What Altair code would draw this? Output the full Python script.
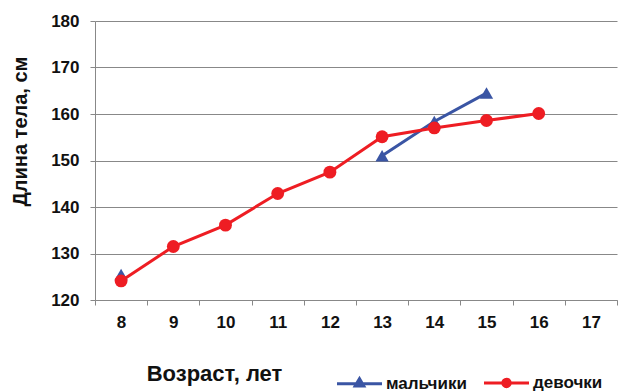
import altair as alt
import pandas as pd

# Age categories on the x axis (years)
ages = [8, 9, 10, 11, 12, 13, 14, 15, 16, 17]

# Body length, cm; None marks ages with no measurement
boys_ages = [8, 9, 10, 11, 12, 13, 14, 15]
boys_len = [125.5, None, None, None, None, 151.0, 158.4, 164.5]

girls_ages = [8, 9, 10, 11, 12, 13, 14, 15, 16]
girls_len = [124.1, 131.5, 136.1, 142.9, 147.5, 155.1, 157.0, 158.6, 160.1]

series = ["мальчики", "девочки"]
colors = ["#3A55A4", "#EE1D23"]
y_ticks = [120, 130, 140, 150, 160, 170, 180]

# Legend glyphs: a short line with the series marker in its middle
legend_paths = [
    "M-4.5,0H4.5M-0.85,0.45L0,-1L0.85,0.45Z",
    "M-4.5,0H4.5M-0.75,0A0.75,0.75 0 1,0 0.75,0A0.75,0.75 0 1,0 -0.75,0Z",
]

boys = pd.DataFrame({"age": boys_ages, "length": boys_len, "series": series[0]})
girls = pd.DataFrame({"age": girls_ages, "length": girls_len, "series": series[1]})
df = pd.concat([boys, girls], ignore_index=True)

FONT = "Liberation Sans"

x_enc = alt.X(
    "age:O",
    scale=alt.Scale(type="band", domain=ages, paddingInner=0, paddingOuter=0),
    bandPosition=0.5,
    axis=alt.Axis(
        title="Возраст, лет",
        titleFont=FONT, titleFontSize=22, titleFontWeight="bold", titleColor="#111",
        titleX=119, titleY=73, titleAlign="center", titleBaseline="middle",
        labelFont=FONT, labelFontSize=17, labelFontWeight="bold", labelColor="#111",
        labelAngle=0, labelPadding=17, labelBaseline="middle",
        tickBand="extent", tickSize=5, tickColor="#888", tickWidth=1,
        domainColor="#888", domainWidth=1, grid=False,
    ),
)

y_enc = alt.Y(
    "length:Q",
    scale=alt.Scale(domain=[120, 180], zero=False, nice=False),
    axis=alt.Axis(
        title="Длина тела, см",
        titleFont=FONT, titleFontSize=20, titleFontWeight="bold", titleColor="#111",
        titleX=-75, titleY=110, titleAlign="center", titleBaseline="middle", titleAngle=270,
        labelFont=FONT, labelFontSize=17, labelFontWeight="bold", labelColor="#111",
        labelPadding=11, values=y_ticks,
        tickSize=5, tickColor="#888", tickWidth=1,
        domainColor="#888", domainWidth=1,
        grid=True, gridColor="#888", gridWidth=1,
    ),
)

base = alt.Chart(df).encode(x=x_enc, y=y_enc)

boys_data = base.transform_filter(alt.datum.series == series[0])
girls_data = base.transform_filter(alt.datum.series == series[1])

# Lines break at missing values, so the lone age-8 point stays unconnected
boys_line = boys_data.mark_line(strokeWidth=3, color=colors[0])
boys_pts = boys_data.transform_filter(alt.expr.isValid(alt.datum.length)).mark_point(
    shape="triangle-up", filled=True, size=175, opacity=1, color=colors[0]
)

girls_line = girls_data.mark_line(strokeWidth=3, color=colors[1])
girls_pts = girls_data.mark_point(
    shape="circle", filled=True, size=165, opacity=1, color=colors[1]
)

legend = alt.Legend(
    title=None, orient="none", legendX=256, legendY=353, direction="horizontal",
    labelFont=FONT, labelFontSize=17, labelFontWeight="bold", labelColor="#111",
    labelOffset=18, columnPadding=11, padding=0,
    symbolSize=100, symbolStrokeWidth=3, symbolOpacity=1,
)

# Invisible marks whose only job is to carry the legend
legend_layer = base.transform_filter(
    alt.expr.isValid(alt.datum.length)
).mark_point(
    filled=True, size=100, strokeWidth=3, opacity=0
).encode(
    fill=alt.Fill("series:N", scale=alt.Scale(domain=series, range=colors), legend=legend),
    stroke=alt.Stroke("series:N", scale=alt.Scale(domain=series, range=colors), legend=legend),
    shape=alt.Shape("series:N", scale=alt.Scale(domain=series, range=legend_paths), legend=legend),
)

chart = alt.layer(
    boys_line, girls_line, boys_pts, girls_pts, legend_layer
).properties(
    width=522,
    height=279,
    autosize=alt.AutoSizeParams(type="none"),
    padding={"left": 95, "top": 21, "right": 1, "bottom": 92},
    background="white",
).configure_view(stroke=None)

chart.save("out.html", embed_options={"renderer": "svg", "actions": False})
